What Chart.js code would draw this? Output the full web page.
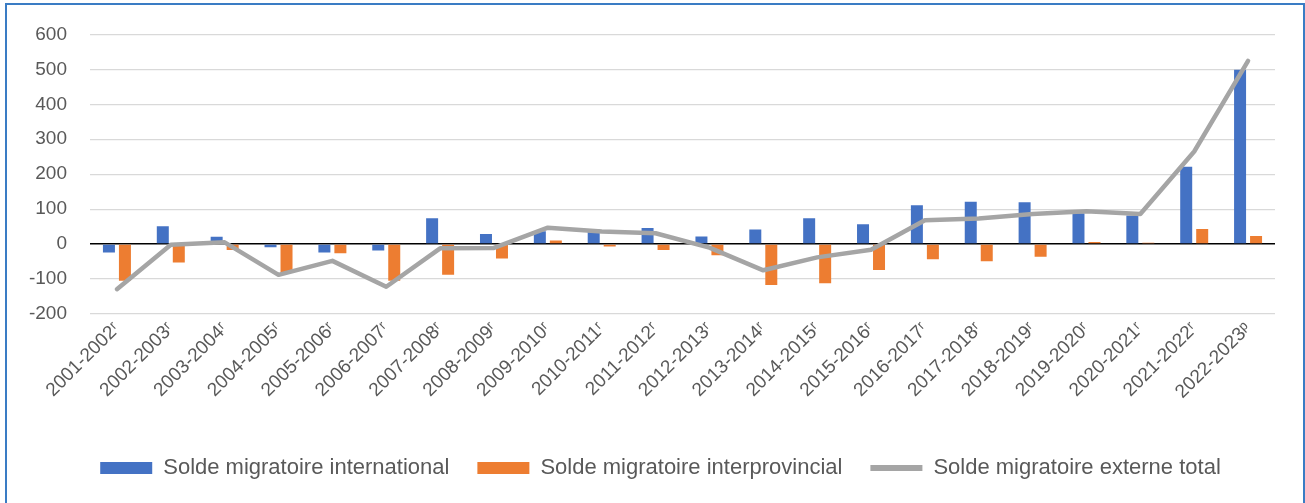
<!DOCTYPE html>
<html>
<head>
<meta charset="utf-8">
<script src="https://cdn.jsdelivr.net/npm/chart.js@4/dist/chart.umd.min.js"></script>
<style>
  html, body { margin: 0; padding: 0; background: #ffffff; overflow: hidden; }
  #frame { position: absolute; left: 5px; top: 3px; width: 1296px; height: 560px; border: 2px solid #3A7CC4; box-sizing: content-box; }
  #wrap { position: absolute; left: 0; top: 0; width: 1305px; height: 503px; }
</style>
</head>
<body>
<div id="frame"></div>
<div id="wrap"><canvas id="c" width="1305" height="503"></canvas></div>
<script>
const categories = ["2001-2002ʳ","2002-2003ʳ","2003-2004ʳ","2004-2005ʳ","2005-2006ʳ","2006-2007ʳ","2007-2008ʳ","2008-2009ʳ","2009-2010ʳ","2010-2011ʳ","2011-2012ʳ","2012-2013ʳ","2013-2014ʳ","2014-2015ʳ","2015-2016ʳ","2016-2017ʳ","2017-2018ʳ","2018-2019ʳ","2019-2020ʳ","2020-2021ʳ","2021-2022ʳ","2022-2023ᵖ"];
const international = [-24, 51, 21, -9, -24, -18, 74, 29, 37, 42, 46, 22, 42, 74, 57, 111, 121, 120, 88, 82, 221, 499];
const interprovincial = [-105, -53, -17, -81, -26, -105, -88, -41, 10, -7, -17, -32, -117, -112, -74, -43, -49, -36, 6, 4, 43, 23];
const externeTotal = [-129, -2, 5, -88, -48, -122, -12, -11, 47, 36, 31, -10, -75, -38, -16, 68, 73, 86, 94, 86, 265, 524];
const seriesNames = ["Solde migratoire international", "Solde migratoire interprovincial", "Solde migratoire externe total"];

const FONT = "'Liberation Sans', Arial, sans-serif";
const TXT = '#595959';

const legendShift = {
  id: 'legendShift',
  afterLayout(chart) {
    if (chart.legend) { chart.legend.left = 46; }
  }
};

new Chart(document.getElementById('c'), {
  data: {
    labels: categories,
    datasets: [
      { type: 'bar', label: seriesNames[0], data: international, backgroundColor: '#4472C4', borderWidth: 0, order: 2,
        barPercentage: 0.75, categoryPercentage: 0.594 },
      { type: 'bar', label: seriesNames[1], data: interprovincial, backgroundColor: '#ED7D31', borderWidth: 0, order: 2,
        barPercentage: 0.75, categoryPercentage: 0.594 },
      { type: 'line', label: seriesNames[2], data: externeTotal, borderColor: '#A5A5A5', backgroundColor: '#A5A5A5',
        borderWidth: 4.5, pointRadius: 0, pointHoverRadius: 0, tension: 0, order: 1,
        borderJoinStyle: 'round', borderCapStyle: 'round' }
    ]
  },
  plugins: [legendShift],
  options: {
    responsive: false,
    animation: false,
    devicePixelRatio: 1,
    layout: { padding: { left: 0, right: 30, top: 33, bottom: 14 } },
    plugins: {
      tooltip: { enabled: false },
      title: { display: false },
      legend: {
        position: 'bottom',
        labels: {
          color: TXT,
          font: { family: FONT, size: 22 },
          usePointStyle: true,
          pointStyleWidth: 52,
          boxWidth: 52,
          boxHeight: 12,
          padding: 28,
          generateLabels(chart) {
            return chart.data.datasets.map((ds, i) => {
              const isLine = ds.type === 'line';
              return {
                text: ds.label,
                datasetIndex: i,
                fillStyle: isLine ? 'rgba(0,0,0,0)' : ds.backgroundColor,
                strokeStyle: isLine ? ds.borderColor : ds.backgroundColor,
                lineWidth: isLine ? 6 : 0,
                pointStyle: isLine ? 'line' : 'rect',
                fontColor: TXT,
                hidden: false
              };
            });
          }
        }
      }
    },
    scales: {
      x: {
        grid: { display: false, drawTicks: false },
        border: { display: false },
        ticks: {
          color: TXT, font: { family: FONT, size: 19 },
          minRotation: 45, maxRotation: 45, autoSkip: false, padding: 4
        },
        afterFit(scale) { scale.height = 115; }
      },
      y: {
        min: -200, max: 600,
        grid: {
          drawTicks: false,
          color: ctx => (ctx.tick && ctx.tick.value === 0) ? '#000000' : '#D9D9D9',
          lineWidth: ctx => (ctx.tick && ctx.tick.value === 0) ? 1.5 : 1.3
        },
        border: { display: false },
        ticks: { stepSize: 100, color: TXT, font: { family: FONT, size: 19 }, padding: 23 },
        afterFit(scale) { scale.width = 90; }
      }
    }
  }
});
</script>
</body>
</html>
